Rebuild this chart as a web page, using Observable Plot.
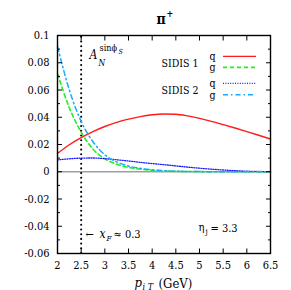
<!DOCTYPE html>
<html><head><meta charset="utf-8">
<script src="https://cdn.jsdelivr.net/npm/d3@7"></script>
<script src="https://cdn.jsdelivr.net/npm/@observablehq/plot@0.6"></script>
<style>body{margin:0;background:#fff} #chart svg, #chart svg text{font-family:"DejaVu Serif Condensed","DejaVu Serif",serif !important;}</style>
</head><body><div id="chart"></div>
<script>
const pT = [2, 2.25, 2.5, 2.75, 3, 3.25, 3.5, 3.75, 4, 4.25, 4.5, 4.75, 5, 5.25, 5.5, 5.75, 6, 6.25, 6.5];
const sidis1Q = [0.0134, 0.0198, 0.0250, 0.0295, 0.0332, 0.0362, 0.0386, 0.0405, 0.0418, 0.0424, 0.0422, 0.0410, 0.0392, 0.0370, 0.0346, 0.0321, 0.0295, 0.0268, 0.0240];
const sidis1G = [0.0720, 0.0470, 0.0290, 0.0166, 0.0095, 0.0055, 0.0032, 0.0019, 0.0011, 0.0006, 0.0003, 0.0002, 0.0001, 0, 0, 0, 0, 0, 0];
const sidis2Q = [0.0087, 0.0095, 0.0100, 0.0101, 0.0096, 0.0088, 0.0079, 0.0069, 0.0060, 0.0052, 0.0043, 0.0034, 0.0026, 0.0019, 0.0013, 0.0008, 0.0004, 0.0002, 0.0001];
const sidis2G = [0.0920, 0.0600, 0.0370, 0.0220, 0.0125, 0.0072, 0.0042, 0.0025, 0.0014, 0.0008, 0.0004, 0.0002, 0.0001, 0, 0, 0, 0, 0, 0];
const xTicks = [2, 2.5, 3, 3.5, 4, 4.5, 5, 5.5, 6, 6.5];
const yTicks = [-0.06, -0.04, -0.02, 0, 0.02, 0.04, 0.06, 0.08, 0.1];
const yMinor = [-0.05, -0.03, -0.01, 0.01, 0.03, 0.05, 0.07, 0.09];
const xF = 2.5;
const series = [
  {name: "SIDIS 1 q", y: sidis1Q, stroke: "#ff1a1a", dash: null, legendY: 0.0847, w: 1.4},
  {name: "SIDIS 1 g", y: sidis1G, stroke: "#22ee22", dash: "4,3", legendY: 0.0766, w: 1.6},
  {name: "SIDIS 2 q", y: sidis2Q, stroke: "#1a1aff", dash: "1,1.4", legendY: 0.0648, w: 1.3},
  {name: "SIDIS 2 g", y: sidis2G, stroke: "#1aaaff", dash: "5,3,1.5,3", legendY: 0.0565, w: 1.5}
];
const ML = 57, MT = 35;
function label(str, px, py, o = {}) {
  return Plot.text([str], {text: d => d, frameAnchor: "top-left", dx: px - ML, dy: py - MT,
    lineAnchor: "bottom", textAnchor: "start", fontSize: 11, fill: "black", ...o});
}
const fmt = d => String(+(+d).toFixed(2));
const marks = [
  Plot.ruleY([0], {stroke: "#a0a0a0", strokeWidth: 1.3}),
  Plot.ruleX([xF], {y1: -0.06, y2: 0.1, stroke: "black", strokeWidth: 2.1, strokeDasharray: "0,4.7", strokeLinecap: "round"}),
  ...series.map(s => Plot.line(pT, {x: d => d, y: (d, i) => s.y[i], stroke: s.stroke, strokeWidth: s.w, strokeDasharray: s.dash, curve: "monotone-x"})),
  ...series.map(s => Plot.ruleY([s.legendY], {x1: 5.507, x2: 6.204, stroke: s.stroke, strokeWidth: s.w, strokeDasharray: s.dash})),
  Plot.axisX({anchor: "bottom", ticks: xTicks, tickSize: 0, tickPadding: 8, tickFormat: fmt, fontSize: 11, label: null}),
  Plot.axisY({anchor: "left", ticks: yTicks, tickSize: 0, tickPadding: 8, tickFormat: fmt, fontSize: 11, label: null}),
  Plot.axisX({anchor: "bottom", ticks: xTicks, tickSize: -4.5, text: null, label: null}),
  Plot.axisX({anchor: "top", ticks: xTicks, tickSize: -4.5, text: null, label: null}),
  Plot.axisY({anchor: "left", ticks: yTicks, tickSize: -5, text: null, label: null}),
  Plot.axisY({anchor: "right", ticks: yTicks, tickSize: -5, text: null, label: null}),
  Plot.axisY({anchor: "left", ticks: yMinor, tickSize: -3, text: null, label: null}),
  Plot.axisY({anchor: "right", ticks: yMinor, tickSize: -3, text: null, label: null}),
  Plot.frame({stroke: "black", strokeWidth: 1.4}),
  label("π", 156, 23, {fontSize: 14, fontWeight: "bold"}),
  label("+", 166, 16, {fontSize: 9, fontWeight: "bold"}),
  label("A", 89, 58, {fontSize: 12, fontStyle: "italic"}),
  label("N", 98, 65, {fontSize: 8.5, fontStyle: "italic"}),
  label("sinϕ", 99, 50, {fontSize: 9}),
  label("S", 118, 53, {fontSize: 7, fontStyle: "italic"}),
  label("SIDIS 1", 161, 66, {fontSize: 10.5}),
  label("q", 209, 59, {fontSize: 10.5}),
  label("g", 209, 70, {fontSize: 10.5}),
  label("SIDIS 2", 161, 93, {fontSize: 10.5}),
  label("q", 209, 86, {fontSize: 10.5}),
  label("g", 209, 98, {fontSize: 10.5}),
  label("←", 85, 237, {fontSize: 11}),
  label("x", 99, 237, {fontSize: 12, fontStyle: "italic"}),
  label("F", 106, 240, {fontSize: 8, fontStyle: "italic"}),
  label("≈ 0.3", 113, 237, {fontSize: 11}),
  label("η", 198, 230, {fontSize: 11}),
  label("j", 205, 233, {fontSize: 8}),
  label("= 3.3", 210, 231, {fontSize: 11}),
  label("p", 134, 286, {fontSize: 13, fontStyle: "italic"}),
  label("i T", 142, 289, {fontSize: 9, fontStyle: "italic"}),
  label("(GeV)", 158, 287, {fontSize: 13})
];
const chart = Plot.plot({
  width: 291, height: 290,
  marginLeft: ML, marginRight: 21, marginTop: MT, marginBottom: 37,
  style: {background: "white", color: "black"},
  x: {domain: [2, 6.5]},
  y: {domain: [-0.06, 0.1]},
  marks
});
document.getElementById("chart").append(chart);
</script>
</body></html>
